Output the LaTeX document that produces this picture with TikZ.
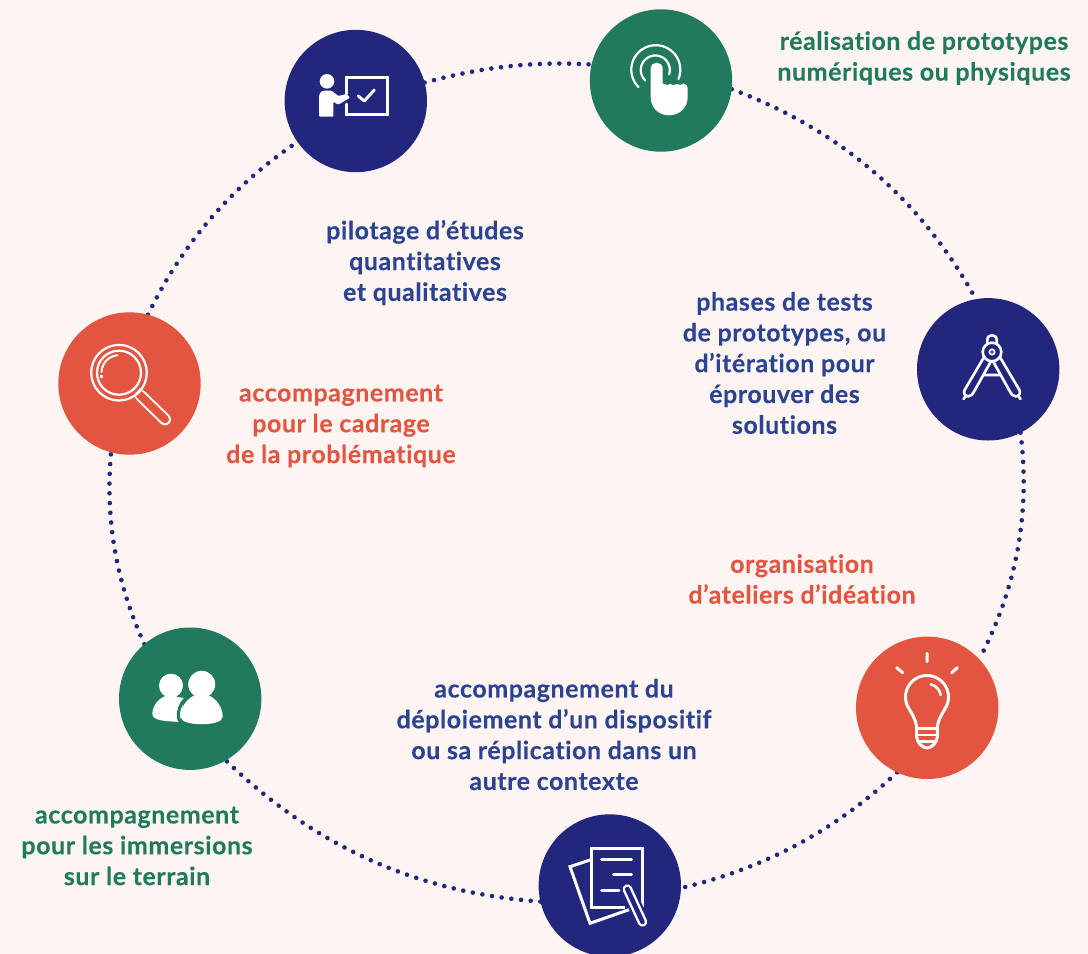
\documentclass[tikz,border=0pt]{standalone}
\usepackage{fontspec}
\setmainfont{Lato}[BoldFont={Lato Bold},BoldFeatures={LetterSpace=2.2,Ligatures=NoCommon,FakeBold=0.15}]
\definecolor{bgc}{HTML}{FEF4F1}
\definecolor{navy}{HTML}{22277D}
\definecolor{vert}{HTML}{217A5E}
\definecolor{rouge}{HTML}{E25540}
\definecolor{bleutxt}{HTML}{2B4391}
\pgfdeclarelayer{under}
\pgfsetlayers{under,main}
\newcommand{\iconarc}[6][]{\draw[#1] plot[domain=#5:#6,samples=40] ({#2+#4*cos(\x)},{#3-#4*sin(\x)});}
\tikzset{
  disc/.style={circle,minimum size=142.4pt,inner sep=0pt,outer sep=0pt,draw=none},
  ring/.style={draw=navy,line width=4.6pt,line cap=round,dash pattern=on 0pt off 9.75pt},
  lab/.style={align=center,inner sep=0pt,font=\fontsize{25}{30.8}\selectfont\bfseries},
  ic/.style={draw=white,line width=#1,line cap=round,line join=round},
  ic/.default=3pt
}
\begin{document}
\begin{tikzpicture}[x=1pt,y=-1pt]
\clip (0,0) rectangle (1088,954);
\begin{pgfonlayer}{under}
\fill[bgc] (0,0) rectangle (1088,954);
\end{pgfonlayer}
\node[disc,fill=navy]  (pilot)   at (355.8,101) {};
\node[disc,fill=vert]  (touch)   at (661,80.5) {};
\node[disc,fill=navy]  (compass) at (988.2,369.3) {};
\node[disc,fill=rouge] (bulb)    at (927.2,707.8) {};
\node[disc,fill=navy]  (doc)     at (609.8,885.5) {};
\node[disc,fill=vert]  (people)  at (190.2,698.7) {};
\node[disc,fill=rouge] (search)  at (129.5,383.5) {};
\begin{pgfonlayer}{under}
\draw[ring] (pilot.15) .. controls (481.7,67) and (533.7,61) .. (touch.167);
\draw[ring] (touch.-7.5) .. controls (840,129.7) and (921,199.3) .. (compass.100);
\draw[ring] (compass.-63) .. controls (1030.6,512.7) and (1016.6,588) .. (bulb.43.4);
\draw[ring] (bulb.245) .. controls (835.8,830.1) and (764.5,868.5) .. (doc.-2);
\draw[ring] (doc.193) .. controls (418.3,893) and (315.7,847.3) .. (people.-60);
\draw[ring] (people.130) .. controls (116.1,582.7) and (105,518.9) .. (search.255);
\draw[ring] (search.75) .. controls (183.4,241.7) and (232.7,185.7) .. (pilot.215.5);
\end{pgfonlayer}
% pilot icon
\fill[white] (327,81.3) circle[radius=7.3];
\fill[white,rounded corners=1pt] (319,116.7) -- (319,98.3) .. controls (319,94) and (321,90.7) .. (325,90.7) -- (331.7,90.7) -- (338.3,96) -- (346.7,94) -- (350,97.7) -- (338.3,104.7) -- (333.3,101.7) -- (333.3,116.7) -- cycle;
\draw[ic=3pt,line join=miter] (346.5,94) -- (346.5,77) -- (387,77) -- (387,114.5) -- (346.5,114.5) -- (346.5,104);
\draw[ic=3pt] (358.3,96) -- (364.3,101) -- (374.3,90);
% touch icon
\iconarc[ic=2.2pt]{655.8}{69.7}{24.5}{-22}{225}
\iconarc[ic=2.2pt]{655.3}{70}{14.5}{-17}{227}
\fill[white] (650.7,68.7) .. controls (650.7,60.7) and (662.7,60.7) .. (662.7,68.7) -- (662.7,83.5)
 .. controls (665,85.5) and (669,85) .. (670,84) .. controls (672,85.5) and (675,85.5) .. (677,84) .. controls (679,85.5) and (682,85) .. (683.5,83.5)
 .. controls (686,84) and (687.7,86) .. (687.7,88) -- (687.7,97) .. controls (687.7,108) and (679,115.3) .. (669,115.3) .. controls (659,115.3) and (650.7,108) .. (650.7,97) -- cycle;
% compass icon
\draw[ic=2.6pt] (983.8,357.5) -- (964.6,390) .. controls (963,393) and (965,396) .. (968,396.5) .. controls (971,396.5) and (973,394) .. (974,391.7) -- (990.7,361.7);
\draw[ic=2.6pt] (1000.2,357.5) -- (1019.4,390) .. controls (1021,393) and (1019,396) .. (1016,396.5) .. controls (1013,396.5) and (1011,394) .. (1010,391.7) -- (993.3,361.7);
\draw[ic=2.6pt] (966,395.5) -- (963.5,399) (1018,395.5) -- (1020.5,399) (983.5,375) -- (1000.5,375);
\draw[ic=2.6pt] (987.3,344.5) -- (987.3,340) .. controls (987.3,333.5) and (996.7,333.5) .. (996.7,340) -- (996.7,344.5);
\draw[ic=2.6pt] (992,352) circle[radius=9.3];
\draw[ic=1.8pt] (992,352) circle[radius=2.6];
% bulb icon
\draw[ic=3pt] (927,653.3) -- (927,661.7) (896.7,667.7) -- (902.7,672.7) (957.3,667.7) -- (951.7,672.7);
\draw[ic=3pt] plot[domain=205:-25,samples=40] ({927+21.5*cos(\x)},{697-21.5*sin(\x)}) .. controls (942,714) and (938,720) .. (937.3,727) -- (937.3,737) .. controls (937,742) and (932,748) .. (927,748) .. controls (922,748) and (917,742) .. (916.7,737) -- (916.7,727) .. controls (916,720) and (912,714) .. (907.5,706);
\draw[ic=2.6pt,line cap=butt] (916.7,728.3) -- (937.3,728.3) (916.7,735) -- (937.3,735) (919,741.7) -- (935,741.7);
\draw[ic=2.6pt] (930.7,684.3) .. controls (935.5,685) and (940,690) .. (940.7,695);
% document icon
\draw[ic=3pt,line join=miter] (590,860) -- (570,866.7) -- (590,923.3) -- (630,909.3);
\draw[ic=3pt,line join=miter,line cap=butt] (625,907.3) -- (591.7,907.3) -- (591.7,848) -- (642.7,848) -- (642.7,907.3);
\draw[ic=3pt] (601.7,859) -- (631.7,859) (613.3,874.7) -- (631.7,874.7) (601.7,890) -- (619,890);
\draw[navy,line width=14pt,line cap=round] (627.3,889) -- (642.5,922);
\draw[white,line width=9.5pt,line cap=round] (627.3,889) -- (642.5,922);
\draw[navy,line width=4.6pt,line cap=round] (627.3,889) -- (642.5,922);
% people icon
\fill[white] (171,685.7) circle[radius=12];
\fill[white] (152.3,713.3) .. controls (153,703) and (162,695) .. (171,695) .. controls (176,696) and (180,698) .. (184,698) -- (180,722) .. controls (165,721) and (152,721) .. (152.3,713.3) -- cycle;
\draw[vert,line width=3pt] (185,699) .. controls (180,704) and (177.5,712) .. (178.5,718) .. controls (179,720) and (180,722) .. (183,723.5);
\fill[white] (201.7,684.3) circle[radius=13.5];
\fill[white] (180.7,716.7) .. controls (180.7,705) and (190,694) .. (201.7,694) .. controls (213,694) and (222.7,705) .. (222.7,716.7) .. controls (222.7,722) and (212,724.2) .. (201.7,724.2) .. controls (191,724.2) and (180.7,722) .. (180.7,716.7) -- cycle;
% search icon
\draw[white,line width=12pt,line cap=round] (141,396) -- (165,419.3);
\draw[rouge,line width=8pt,line cap=round] (139,394) -- (165,419.3);
\draw[white,line width=6.5pt,line cap=butt] (136.5,390) -- (139.5,393);
\fill[rouge] (119,372.7) circle[radius=26];
\draw[ic=2.2pt] (119,372.7) circle[radius=27.8];
\draw[ic=2.2pt] (119,372.7) circle[radius=22];
\iconarc[ic=2pt]{119}{372.7}{17.5}{95}{178}
\fill[white] (100,374.5) rectangle (103.2,377.5);
% labels
\node[lab,text=vert] (t1) at (924,58) {réalisation de prototypes\\numériques ou physiques};
\node[lab,text=bleutxt] (t2) at (425,262.5) {pilotage d’études\\quantitatives\\et qualitatives};
\node[lab,text=bleutxt] (t3) at (784.5,363) {phases de tests\\de prototypes, ou\\d’itération pour\\éprouver des\\solutions};
\node[lab,text=rouge] (t4) at (341,426) {accompagnement\\pour le cadrage\\de la problématique};
\node[lab,text=rouge] (t5) at (802,579) {organisation\\d’ateliers d’idéation};
\node[lab,text=bleutxt] (t6) at (554,734.5) {accompagnement du\\déploiement d’un dispositif\\ou sa réplication dans un\\autre contexte};
\node[lab,text=vert] (t7) at (137,846) {accompagnement\\pour les immersions\\sur le terrain};
\end{tikzpicture}
\end{document}
